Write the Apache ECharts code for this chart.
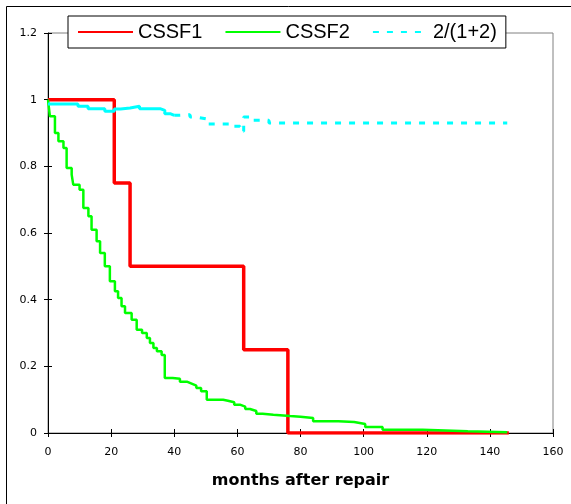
<!DOCTYPE html>
<html>
<head>
<meta charset="utf-8">
<script src="https://cdn.jsdelivr.net/npm/echarts@6/dist/echarts.min.js"></script>
<style>
  html, body { margin: 0; padding: 0; background: #fff; }
  #chart { width: 571px; height: 504px; }
</style>
</head>
<body>
<div id="chart"></div>
<script>
// Kaplan-Meier style curves: each time starts a step at the given value
const cssf1Times = [0, 21, 26, 62, 76, 146];
const cssf1Surv  = [1, 0.75, 0.5, 0.25, 0, 0];

const cssf2Times = [0, 0.6, 2.2, 3.3, 4.9, 5.9, 7.5, 8, 10, 11.2, 12.8, 13.8, 15.4, 16.5, 18, 19.6,
    21.2, 22.2, 23.3, 24.4, 26.5, 28.1, 29.8, 31.3, 32.3, 33.4, 34.5, 36, 37, 39.5, 41.8, 44, 45.5,
    47, 48.5, 50.3, 55.5, 57, 59, 60.8, 62.5, 64, 66, 68, 71.4, 76.7, 80, 84, 92, 97, 100.5, 106,
    118.7, 133, 145.5];
const cssf2Surv  = [1, 0.95, 0.9, 0.875, 0.855, 0.795, 0.775, 0.745, 0.73, 0.675, 0.65, 0.61, 0.575, 0.54, 0.5, 0.455,
    0.425, 0.405, 0.38, 0.36, 0.34, 0.31, 0.3, 0.285, 0.27, 0.255, 0.245, 0.234, 0.165, 0.163, 0.154, 0.148, 0.142,
    0.135, 0.125, 0.1, 0.097, 0.092, 0.085, 0.079, 0.072, 0.066, 0.058, 0.055, 0.051, 0.049, 0.045, 0.035, 0.033, 0.027, 0.018, 0.01,
    0.005, 0.002, 0.002];

const ratioTimes = [0, 9.5, 12.7, 18, 21, 23, 26, 29, 35.5, 37, 38.7, 40.8, 45, 47, 50.3, 57.7, 60.8, 62, 65, 70, 145.5];
const ratioVals  = [0.987, 0.98, 0.973, 0.965, 0.972, 0.975, 0.98, 0.973, 0.968, 0.958, 0.953, 0.955, 0.948, 0.942, 0.927, 0.92, 0.905, 0.948, 0.938, 0.93, 0.93];
const ratioSolidUntil = 40; // the early part of the ratio line looks solid

const xMin = 0, xMax = 160, xStep = 20;
const yMin = 0, yMax = 1.2, yStep = 0.2;

function pairs(xs, ys) {
    return xs.map((x, i) => [x, ys[i]]);
}

// split the ratio line into a solid head and a dashed tail
const ratioAll = pairs(ratioTimes, ratioVals);
let cutVal = ratioVals[0];
ratioAll.forEach(p => { if (p[0] <= ratioSolidUntil) cutVal = p[1]; });
const ratioSolid = ratioAll.filter(p => p[0] <= ratioSolidUntil).concat([[ratioSolidUntil, cutVal]]);
const ratioDashed = [[ratioSolidUntil, cutVal]].concat(ratioAll.filter(p => p[0] > ratioSolidUntil));

const chart = echarts.init(document.getElementById('chart'));

const labelFont = { color: '#000', fontFamily: 'DejaVu Sans', fontSize: 11 };

const option = {
    animation: false,
    backgroundColor: '#fff',
    graphic: [
        { type: 'line', shape: { x1: 6.5, y1: 6.5, x2: 571, y2: 6.5 }, style: { stroke: '#000', lineWidth: 1 } },
        { type: 'line', shape: { x1: 6.5, y1: 6.5, x2: 6.5, y2: 504 }, style: { stroke: '#000', lineWidth: 1 } }
    ],
    grid: {
        left: 48, right: 18, top: 33, bottom: 71,
        show: true, borderColor: '#808080', borderWidth: 1, backgroundColor: 'transparent'
    },
    legend: {
        data: ['CSSF1', 'CSSF2', '2/(1+2)'],
        left: 68, top: 16,
        padding: [6, 9],
        itemWidth: 55, itemHeight: 14, itemGap: 22,
        borderColor: '#000', borderWidth: 1, backgroundColor: '#fff',
        itemStyle: { color: 'transparent', borderWidth: 0, opacity: 0 },
        textStyle: { color: '#000', fontFamily: 'Liberation Sans', fontSize: 20 }
    },
    xAxis: [{
        type: 'value', min: xMin, max: xMax, interval: xStep,
        name: 'months after repair', nameLocation: 'middle', nameGap: 40,
        nameTextStyle: { color: '#000', fontFamily: 'DejaVu Sans', fontSize: 16, fontWeight: 'bold' },
        axisLine: { show: true, onZero: false, lineStyle: { color: '#000', width: 1 } },
        axisTick: { show: true, length: 4, lineStyle: { color: '#000' } },
        axisLabel: Object.assign({ margin: 14 }, labelFont),
        splitLine: { show: false }
    }, {
        type: 'value', min: xMin, max: xMax, interval: xStep, position: 'bottom',
        axisLine: { show: false },
        axisTick: { show: true, inside: true, length: 4, lineStyle: { color: '#000' } },
        axisLabel: { show: false },
        splitLine: { show: false }
    }],
    yAxis: [{
        type: 'value', min: yMin, max: yMax, interval: yStep,
        axisLine: { show: true, onZero: false, lineStyle: { color: '#000', width: 1 } },
        axisTick: { show: true, length: 4, lineStyle: { color: '#000' } },
        axisLabel: Object.assign({ margin: 11, formatter: v => String(+v.toFixed(1)) }, labelFont),
        splitLine: { show: false }
    }, {
        type: 'value', min: yMin, max: yMax, interval: yStep, position: 'left',
        axisLine: { show: false },
        axisTick: { show: true, inside: true, length: 4, lineStyle: { color: '#000' } },
        axisLabel: { show: false },
        splitLine: { show: false }
    }],
    series: [{
        name: 'CSSF1', type: 'line', step: 'end', symbol: 'none',
        data: pairs(cssf1Times, cssf1Surv),
        itemStyle: { color: '#ff0000' },
        lineStyle: { color: '#ff0000', width: 3.5 }
    }, {
        name: 'CSSF2', type: 'line', step: 'end', symbol: 'none',
        data: pairs(cssf2Times, cssf2Surv),
        itemStyle: { color: '#00ff00' },
        lineStyle: { color: '#00ff00', width: 2.5 }
    }, {
        name: 'ratio head', type: 'line', step: 'end', symbol: 'none',
        data: ratioSolid,
        itemStyle: { color: '#00ffff' },
        lineStyle: { color: '#00ffff', width: 3 }
    }, {
        name: '2/(1+2)', type: 'line', step: 'end', symbol: 'none',
        data: ratioDashed,
        itemStyle: { color: '#00ffff' },
        lineStyle: { color: '#00ffff', width: 3, type: [6, 8] }
    }]
};

chart.setOption(option);
</script>
</body>
</html>
